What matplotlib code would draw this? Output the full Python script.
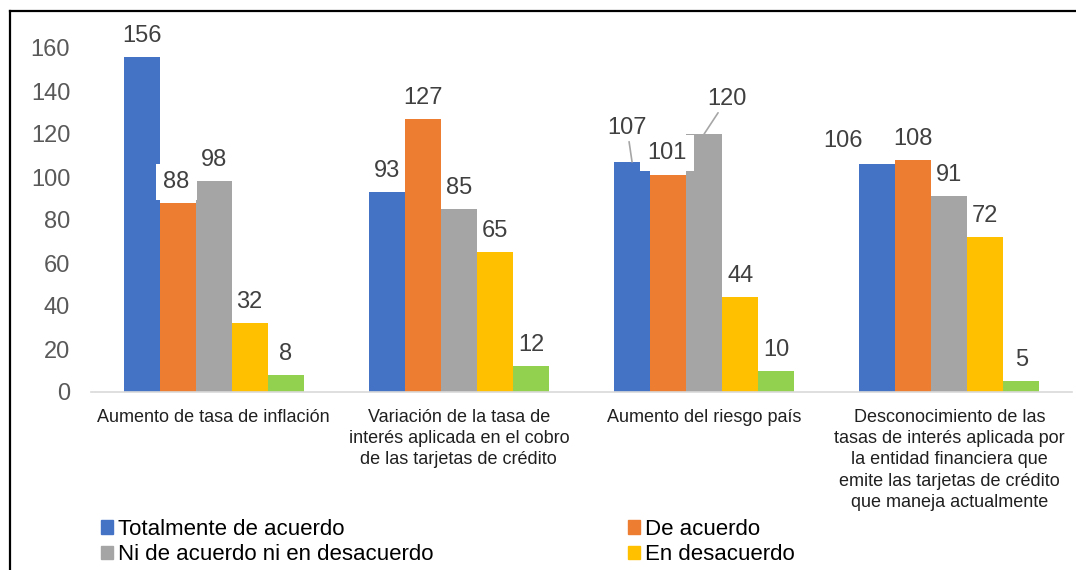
import matplotlib
matplotlib.use("Agg")
import matplotlib.pyplot as plt
import numpy as np
from matplotlib.lines import Line2D
from matplotlib.patches import Patch

plt.rcParams["font.family"] = ["Liberation Sans", "DejaVu Sans"]

categories = [
    "Aumento de tasa de inflación",
    "Variación de la tasa de\ninterés aplicada en el cobro\nde las tarjetas de crédito",
    "Aumento del riesgo país",
    "Desconocimiento de las\ntasas de interés aplicada por\nla entidad financiera que\nemite las tarjetas de crédito\nque maneja actualmente",
]
series_names = [
    "Totalmente de acuerdo",
    "De acuerdo",
    "Ni de acuerdo ni en desacuerdo",
    "En desacuerdo",
    "Totalmente en desacuerdo",
]
totalmente_de_acuerdo = [156, 93, 107, 106]
de_acuerdo = [88, 127, 101, 108]
ni_ni = [98, 85, 120, 91]
en_desacuerdo = [32, 65, 44, 72]
totalmente_en_desacuerdo = [8, 12, 10, 5]
yticks = [0, 20, 40, 60, 80, 100, 120, 140, 160]

values = [totalmente_de_acuerdo, de_acuerdo, ni_ni, en_desacuerdo, totalmente_en_desacuerdo]
colors = ["#4472C4", "#ED7D31", "#A5A5A5", "#FFC000", "#92D050"]

# label nudges (pixels) for the hand-moved Excel labels: (series, category) -> (dx, dy)
label_offsets = {(0, 2): (-5, 34), (2, 2): (23, 35), (0, 3): (-34, 23),
                 (1, 0): (-1, 21), (1, 2): (-1, 22)}
boxed = {(1, 0), (1, 2)}
leader = {(0, 2), (2, 2)}

fig = plt.figure(figsize=(10.76, 5.70), dpi=100)
ax = fig.add_axes([91 / 1076, 1 - 392 / 570, 981 / 1076, 344 / 570])

x = np.arange(len(categories))
w = 36 / 245
for i, (vals, col) in enumerate(zip(values, colors)):
    pos = x + (i - 2) * w
    ax.bar(pos, vals, width=w, color=col, label=series_names[i], zorder=2)
    for j, v in enumerate(vals):
        dx, dy = label_offsets.get((i, j), (0, 21))
        kw = {}
        if (i, j) in boxed:
            kw["bbox"] = dict(boxstyle="square,pad=0.3", fc="white", ec="none")
        if (i, j) in leader:
            kw["arrowprops"] = dict(arrowstyle="-", color="#A6A6A6", lw=1.2,
                                    shrinkA=0, shrinkB=0)
        ax.annotate(str(v), xy=(pos[j], v), xytext=(dx, dy),
                    textcoords="offset pixels", ha="center", va="center",
                    fontsize=17, color="#404040", zorder=4,
                    annotation_clip=False, **kw)

ax.set_xlim(-0.5, len(categories) - 0.5)
ax.set_ylim(0, 160)
ax.set_yticks(yticks)
ax.set_xticks(x)
ax.set_xticklabels(categories, fontsize=13, color="#202020", linespacing=1.33)
ax.tick_params(axis="y", length=0, pad=15, labelsize=17, labelcolor="#595959")
ax.tick_params(axis="x", length=0, pad=12)
for s in ["top", "right", "left"]:
    ax.spines[s].set_visible(False)
ax.spines["bottom"].set_color("#D9D9D9")
ax.spines["bottom"].set_linewidth(1.2)

handles = [Patch(color=colors[k]) for k in (0, 2, 1, 3)]
labels = [series_names[k] for k in (0, 2, 1, 3)]
fig.legend(handles, labels, ncol=2, loc="upper left",
           bbox_to_anchor=(101 / 1076, 1 - 519 / 570), frameon=False,
           fontsize=16, handlelength=0.55, handleheight=0.55, handletextpad=0.22,
           columnspacing=8.75, labelspacing=0.2, borderpad=0, borderaxespad=0)

# frame of the original (only top and left edges visible in the crop)
fig.add_artist(Line2D([10 / 1076, 1], [1 - 11 / 570, 1 - 11 / 570],
                      color="black", lw=1.6, transform=fig.transFigure))
fig.add_artist(Line2D([10 / 1076, 10 / 1076], [0, 1 - 11 / 570],
                      color="black", lw=1.6, transform=fig.transFigure))

fig.savefig("out.png", dpi=100)
